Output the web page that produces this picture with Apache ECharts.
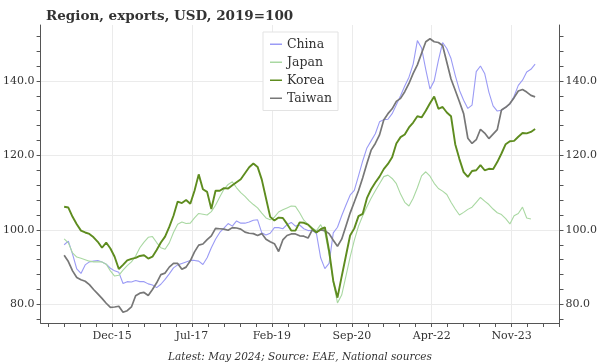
<!DOCTYPE html>
<html><head><meta charset="utf-8">
<script src="https://cdn.jsdelivr.net/npm/echarts@6/dist/echarts.min.js"></script>
<style>html,body{margin:0;padding:0;background:#fff}#c{width:600px;height:364px}</style>
</head><body><div id="c"></div>
<script>
// months since Jan-2015 (0 = Jan-15, 112 = May-24)
const china = [96.0,97.0,93.5,89.5,88.3,90.6,91.4,91.6,91.8,91.4,90.8,89.7,89.0,88.6,85.6,86.1,86.0,86.4,86.1,86.1,
85.5,85.2,84.5,85.4,86.7,88.2,89.8,90.6,91.0,91.4,91.8,91.8,91.6,90.7,92.5,95.2,97.5,99.3,100.5,101.7,
101.0,102.4,101.8,101.8,102.1,102.6,102.7,99.2,98.6,99.1,100.6,100.6,100.3,101.4,102.0,101.0,101.3,100.3,99.8,99.9,
99.0,92.5,89.6,91.0,99.2,100.7,103.8,106.6,109.3,110.6,114.5,118.5,122.0,123.9,125.8,129.0,129.6,129.7,131.2,133.6,
136.0,138.6,141.0,144.5,150.8,148.8,143.0,137.8,140.0,145.5,150.3,148.7,146.0,141.5,137.5,134.8,132.6,133.5,142.5,144.0,
142.0,137.0,133.3,131.9,132.1,132.9,133.8,135.9,138.8,140.2,142.4,143.1,144.5];
const japan = [97.6,96.5,93.8,92.7,92.4,92.0,91.6,91.4,91.4,91.4,90.8,89.0,87.6,87.8,89.2,90.4,91.4,93.0,95.2,96.7,
98.0,98.2,96.6,95.2,94.8,96.5,99.3,101.5,102.1,101.7,101.8,103.2,104.4,104.2,104.0,104.9,106.6,108.8,110.9,112.2,
112.9,111.3,110.0,109.0,107.8,106.8,105.9,104.5,103.2,102.7,103.4,104.8,105.4,105.9,106.4,106.3,104.6,102.6,101.5,100.5,
99.8,101.4,99.3,93.5,86.0,80.4,82.5,87.5,92.7,97.2,101.0,103.8,106.2,108.5,110.5,112.4,114.3,114.7,113.8,112.4,
109.6,107.4,106.4,108.5,111.3,114.5,115.6,114.4,112.5,111.1,110.4,109.5,107.4,105.6,104.0,104.7,105.5,106.1,107.4,108.7,
107.7,106.8,105.6,104.6,104.1,103.0,101.6,103.8,104.4,106.1,103.2,102.9];
const korea = [106.2,106.0,103.5,101.5,99.8,99.3,98.9,98.0,96.8,95.2,96.6,95.0,92.8,89.5,90.6,91.8,92.2,92.5,93.0,93.2,
92.3,92.8,94.6,96.6,98.2,100.8,103.8,107.6,107.2,108.0,107.0,110.5,114.9,110.9,110.2,105.6,110.5,110.5,111.2,111.1,
112.0,112.8,113.6,115.2,116.8,117.8,116.9,113.5,108.5,103.5,102.5,103.3,103.2,101.6,99.8,99.8,102.0,101.9,101.4,100.3,
99.3,100.2,100.7,94.4,86.3,81.8,87.5,93.0,98.5,100.4,103.7,104.3,108.5,110.9,112.7,114.3,116.3,117.7,119.5,123.2,
124.9,125.6,127.5,128.8,130.5,130.2,132.0,134.0,135.8,132.5,133.0,131.5,130.5,123.0,119.0,115.5,114.2,115.8,116.0,117.4,
116.0,116.4,116.3,118.2,120.5,123.0,123.8,123.9,125.0,126.0,125.9,126.3,127.1];
const taiwan = [93.2,91.5,89.0,87.2,86.6,86.2,85.3,84.0,82.8,81.6,80.3,79.2,79.3,79.5,77.9,78.3,79.3,82.3,83.0,83.2,
82.4,84.0,85.8,88.0,88.4,90.0,91.0,91.0,89.4,90.0,91.7,94.1,95.9,96.2,97.4,98.4,100.4,100.3,100.2,99.9,
100.6,100.5,100.2,99.4,99.1,99.0,98.5,99.0,97.5,96.8,96.3,94.2,97.3,98.5,98.9,98.9,98.4,98.3,97.8,100.0,
99.4,100.0,99.8,99.0,97.2,95.6,97.5,101.0,104.5,107.5,110.5,114.0,117.8,121.4,123.2,125.5,129.5,131.2,132.5,134.5,
135.3,137.1,139.3,142.0,144.3,147.4,150.5,151.3,150.5,150.3,149.5,145.0,140.5,137.5,134.4,131.2,124.6,123.2,124.2,127.0,
126.0,124.5,125.7,126.9,132.2,132.9,133.9,135.5,137.3,137.7,137.0,136.1,135.7];

const seriesNames = ['China', 'Japan', 'Korea', 'Taiwan'];
const xTickLabels = ['Dec-15', 'Jul-17', 'Feb-19', 'Sep-20', 'Apr-22', 'Nov-23'];
const xTickPos = [11.4, 30.4, 49.4, 68.4, 87.4, 106.4];   // in months since Jan-15
const yTickValues = [80, 100, 120, 140];

const X_MIN = -5.6, X_MAX = 117.8, Y_MIN = 75, Y_MAX = 155;
const xMinor = [];
for (let k = -5; k <= 30; k++) {
  const v = Math.round((xTickPos[0] + k * 3.8) * 100) / 100;
  if (v >= X_MIN && v <= X_MAX) xMinor.push(v);
}
const yMinor = [];
for (let v = 76; v <= 152; v += 4) yMinor.push(v);

const FONT = 'DejaVu Serif';
const AX = '#555';
const GRIDC = '#ebebeb';
const toPairs = arr => arr.map((v, i) => [i, v]);

const chart = echarts.init(document.getElementById('c'), null, {renderer: 'canvas'});
const xBase = {type: 'value', min: X_MIN, max: X_MAX, position: 'bottom'};
const yBase = {type: 'value', min: Y_MIN, max: Y_MAX};
chart.setOption({
  animation: false,
  backgroundColor: '#fff',
  title: [
    {text: 'Region, exports, USD, 2019=100', left: 41, top: 4,
     textStyle: {fontFamily: FONT, fontWeight: 'bold', fontSize: 13.5, color: '#333'}},
    {text: 'Latest: May 2024; Source: EAE, National sources', left: 'center', top: 347,
     textStyle: {fontFamily: FONT, fontStyle: 'italic', fontWeight: 'normal', fontSize: 10.5, color: '#333'}}
  ],
  grid: {left: 40.6, right: 39.3, top: 25, bottom: 41, containLabel: false},
  legend: {
    orient: 'vertical', left: 263, top: 32,
    data: seriesNames,
    icon: 'rect', itemWidth: 12, itemHeight: 1.5,
    itemGap: 3.5,
    padding: [5, 6, 5, 7],
    borderColor: '#e3e3e3', borderWidth: 1, backgroundColor: '#fff',
    textStyle: {fontFamily: FONT, fontSize: 12.5, color: '#333', lineHeight: 14.5}
  },
  xAxis: [
    Object.assign({}, xBase, {
      axisLine: {show: true, onZero: false, lineStyle: {color: AX, width: 1}},
      axisTick: {show: true, customValues: xMinor, length: 4, lineStyle: {color: AX}},
      axisLabel: {show: true, customValues: xTickPos, margin: 8,
        fontFamily: FONT, fontSize: 11, color: '#333',
        formatter: v => {
          let best = 0;
          xTickPos.forEach((p, i) => { if (Math.abs(p - v) < Math.abs(xTickPos[best] - v)) best = i; });
          return xTickLabels[best];
        }},
      splitLine: {show: false}
    }),
    Object.assign({}, xBase, {
      axisLine: {show: false, onZero: false},
      axisTick: {show: false, customValues: xTickPos},
      axisLabel: {show: false},
      splitLine: {show: true, lineStyle: {color: GRIDC, width: 1}}
    })
  ],
  yAxis: [
    Object.assign({}, yBase, {position: 'left',
     axisLine: {show: true, onZero: false, lineStyle: {color: AX}},
     axisTick: {show: true, customValues: yMinor, length: 4, lineStyle: {color: AX}},
     axisLabel: {customValues: yTickValues, formatter: v => v.toFixed(1), margin: 6,
       fontFamily: FONT, fontSize: 11, color: '#333'},
     splitLine: {show: false}}),
    Object.assign({}, yBase, {position: 'left',
     axisLine: {show: false, onZero: false},
     axisTick: {show: false, customValues: yTickValues},
     axisLabel: {show: false},
     splitLine: {show: true, lineStyle: {color: GRIDC, width: 1}}}),
    Object.assign({}, yBase, {position: 'right',
     axisLine: {show: true, onZero: false, lineStyle: {color: AX}},
     axisTick: {show: true, customValues: yMinor, length: 4, lineStyle: {color: AX}},
     axisLabel: {customValues: yTickValues, formatter: v => v.toFixed(1), margin: 6,
       fontFamily: FONT, fontSize: 11, color: '#333'},
     splitLine: {show: false}})
  ],
  series: [
    {name: 'China', type: 'line', data: toPairs(china), showSymbol: false, symbol: 'none',
     lineStyle: {color: '#9b9bf5', width: 1.1}, itemStyle: {color: '#9b9bf5'}, z: 2},
    {name: 'Japan', type: 'line', data: toPairs(japan), showSymbol: false, symbol: 'none',
     lineStyle: {color: '#a9d8a2', width: 1.1}, itemStyle: {color: '#a9d8a2'}, z: 2},
    {name: 'Taiwan', type: 'line', data: toPairs(taiwan), showSymbol: false, symbol: 'none',
     lineStyle: {color: '#777777', width: 1.7}, itemStyle: {color: '#777777'}, z: 3},
    {name: 'Korea', type: 'line', data: toPairs(korea), showSymbol: false, symbol: 'none',
     lineStyle: {color: '#5e8c1f', width: 1.9}, itemStyle: {color: '#5e8c1f'}, z: 4}
  ]
});
</script></body></html>
